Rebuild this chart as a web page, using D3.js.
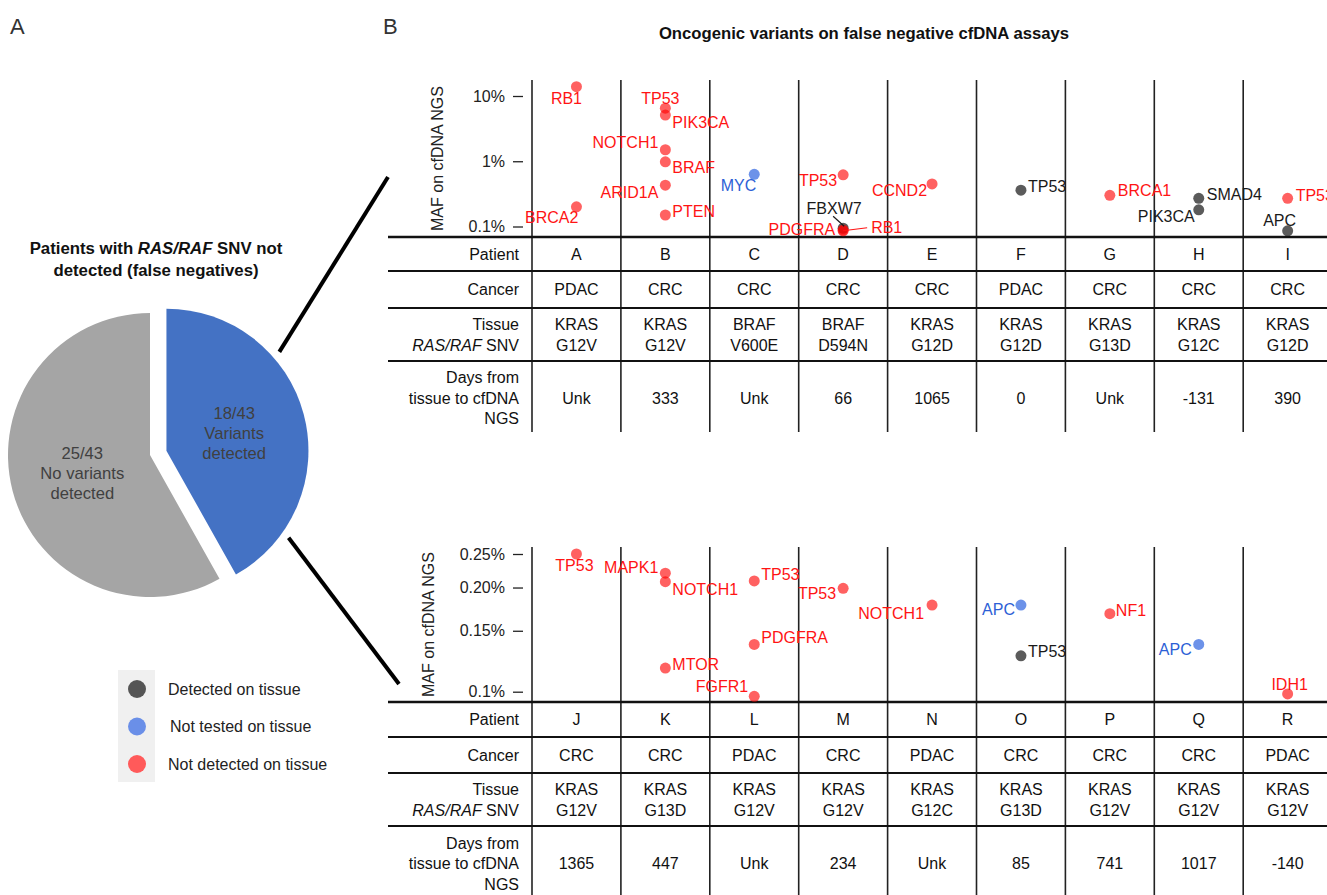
<!DOCTYPE html>
<html>
<head>
<meta charset="utf-8">
<script src="https://cdn.jsdelivr.net/npm/d3@7"></script>
<style>
  body { margin: 0; background: #fff; }
  svg { font-family: "Liberation Sans", Arial, Helvetica, sans-serif; }
</style>
</head>
<body>
<svg id="fig" width="1327" height="895"></svg>
<script>
// ---- pie data (panel A)
const pieLabels = ['18/43|Variants|detected', '25/43|No variants|detected'];
const pieValues = [18, 25];
const pieColors = ['#4472c4', '#a5a5a5'];

// ---- legend
const legendKeys = ['det', 'nt', 'nd'];
const legendText = ['Detected on tissue', 'Not tested on tissue', 'Not detected on tissue'];

// ---- table rows, top panel
const topPatients = ['A', 'B', 'C', 'D', 'E', 'F', 'G', 'H', 'I'];
const topCancer = ['PDAC', 'CRC', 'CRC', 'CRC', 'CRC', 'PDAC', 'CRC', 'CRC', 'CRC'];
const topGene = ['KRAS', 'KRAS', 'BRAF', 'BRAF', 'KRAS', 'KRAS', 'KRAS', 'KRAS', 'KRAS'];
const topSnv = ['G12V', 'G12V', 'V600E', 'D594N', 'G12D', 'G12D', 'G13D', 'G12C', 'G12D'];
const topDays = ['Unk', '333', 'Unk', '66', '1065', '0', 'Unk', '-131', '390'];
const topTicks = [0.1, 1, 10];

// MAF in %, status: det = detected on tissue, nt = not tested, nd = not detected
const topVariants = [
  {patient: 'A', gene: 'RB1', maf: 13.9, status: 'nd'},
  {patient: 'A', gene: 'BRCA2', maf: 0.2, status: 'nd'},
  {patient: 'B', gene: 'TP53', maf: 6.5, status: 'nd'},
  {patient: 'B', gene: 'PIK3CA', maf: 5.1, status: 'nd'},
  {patient: 'B', gene: 'NOTCH1', maf: 1.5, status: 'nd'},
  {patient: 'B', gene: 'BRAF', maf: 0.98, status: 'nd'},
  {patient: 'B', gene: 'ARID1A', maf: 0.43, status: 'nd'},
  {patient: 'B', gene: 'PTEN', maf: 0.15, status: 'nd'},
  {patient: 'C', gene: 'MYC', maf: 0.63, status: 'nt'},
  {patient: 'D', gene: 'TP53', maf: 0.62, status: 'nd'},
  {patient: 'D', gene: 'FBXW7', maf: 0.094, status: 'det'},
  {patient: 'D', gene: 'PDGFRA', maf: 0.088, status: 'nd'},
  {patient: 'D', gene: 'RB1', maf: 0.086, status: 'nd'},
  {patient: 'E', gene: 'CCND2', maf: 0.45, status: 'nd'},
  {patient: 'F', gene: 'TP53', maf: 0.36, status: 'det'},
  {patient: 'G', gene: 'BRCA1', maf: 0.3, status: 'nd'},
  {patient: 'H', gene: 'SMAD4', maf: 0.27, status: 'det'},
  {patient: 'H', gene: 'PIK3CA', maf: 0.18, status: 'det'},
  {patient: 'I', gene: 'TP53', maf: 0.27, status: 'nd'},
  {patient: 'I', gene: 'APC', maf: 0.086, status: 'det'}
];
// label placement for each variant above: [dx, dy, anchor, leader?]
const topLabelPos = [
  [-10, 12, 'middle'], [2, 11, 'end'],
  [-5, -10, 'middle'], [7, 7, 'start'], [-7, -7, 'end'], [7, 6, 'start'], [-7, 7, 'end'], [7, -4, 'start'],
  [2, 11, 'end'],
  [-6, 6, 'end'], [-9, -20, 'middle', [-10, -12, 1, -2]], [-8, -1, 'end'], [28, -3, 'start', [0, 0, 24, -3]],
  [-5, 7, 'end'],
  [7, -4, 'start'],
  [8, -5, 'start'],
  [8, -4, 'start'], [-4, 7, 'end'],
  [8, -3, 'start'], [-8, -10, 'middle']
];

// ---- table rows, bottom panel
const botPatients = ['J', 'K', 'L', 'M', 'N', 'O', 'P', 'Q', 'R'];
const botCancer = ['CRC', 'CRC', 'PDAC', 'CRC', 'PDAC', 'CRC', 'CRC', 'CRC', 'PDAC'];
const botGene = ['KRAS', 'KRAS', 'KRAS', 'KRAS', 'KRAS', 'KRAS', 'KRAS', 'KRAS', 'KRAS'];
const botSnv = ['G12V', 'G13D', 'G12V', 'G12V', 'G12C', 'G13D', 'G12V', 'G12V', 'G12V'];
const botDays = ['1365', '447', 'Unk', '234', 'Unk', '85', '741', '1017', '-140'];
const botTicks = [0.1, 0.15, 0.2, 0.25];

const botVariants = [
  {patient: 'J', gene: 'TP53', maf: 0.25, status: 'nd'},
  {patient: 'K', gene: 'MAPK1', maf: 0.22, status: 'nd'},
  {patient: 'K', gene: 'NOTCH1', maf: 0.208, status: 'nd'},
  {patient: 'K', gene: 'MTOR', maf: 0.117, status: 'nd'},
  {patient: 'L', gene: 'TP53', maf: 0.209, status: 'nd'},
  {patient: 'L', gene: 'PDGFRA', maf: 0.137, status: 'nd'},
  {patient: 'L', gene: 'FGFR1', maf: 0.097, status: 'nd'},
  {patient: 'M', gene: 'TP53', maf: 0.199, status: 'nd'},
  {patient: 'N', gene: 'NOTCH1', maf: 0.178, status: 'nd'},
  {patient: 'O', gene: 'APC', maf: 0.178, status: 'nt'},
  {patient: 'O', gene: 'TP53', maf: 0.127, status: 'det'},
  {patient: 'P', gene: 'NF1', maf: 0.168, status: 'nd'},
  {patient: 'Q', gene: 'APC', maf: 0.137, status: 'nt'},
  {patient: 'R', gene: 'IDH1', maf: 0.0985, status: 'nd'}
];
const botLabelPos = [
  [-2, 11, 'middle'],
  [-7, -6, 'end'], [7, 8, 'start'], [7, -4, 'start'],
  [7, -7, 'start'], [7, -7, 'start'], [-6, -10, 'end'],
  [-7, 5, 'end'],
  [-8, 8, 'end'],
  [-6, 4, 'end'], [7, -4, 'start'],
  [6, -3, 'start'],
  [-7, 5, 'end'],
  [2, -10, 'middle']
];

const dotFill = {det: '#1c1c1c', nt: '#3b6ee2', nd: '#ff0000'};
const dotOpacity = {det: 0.72, nt: 0.75, nd: 0.62};
const textFill = {det: '#1a1a1a', nt: '#2d5fd6', nd: '#ff1414'};
const legendFill = {det: '#555555', nt: '#6a8fe8', nd: '#ff5a5a'};

const svg = d3.select('#fig');

// ---------- panel letters and titles
svg.append('text').attr('x', 10).attr('y', 34).attr('font-size', 22).attr('fill', '#333').text('A');
svg.append('text').attr('x', 383).attr('y', 34).attr('font-size', 22).attr('fill', '#333').text('B');
svg.append('text').attr('x', 864).attr('y', 39).attr('text-anchor', 'middle')
  .attr('font-size', 16.7).attr('font-weight', 'bold').attr('fill', '#111')
  .text('Oncogenic variants on false negative cfDNA assays');

const pt = svg.append('text').attr('text-anchor', 'middle').attr('font-size', 16.8)
  .attr('font-weight', 'bold').attr('fill', '#111');
const l1 = pt.append('tspan').attr('x', 156).attr('y', 254);
l1.append('tspan').text('Patients with ');
l1.append('tspan').attr('font-style', 'italic').text('RAS/RAF');
l1.append('tspan').text(' SNV not');
pt.append('tspan').attr('x', 156).attr('y', 276).text('detected (false negatives)');

// ---------- pie
const cx = 150, cy = 455, R = 142, explode = 17;
const pie = d3.pie().sort(null)(pieValues);
const arc = d3.arc().innerRadius(0).outerRadius(R);
const labelArc = d3.arc().innerRadius(70).outerRadius(70);
const pieG = svg.append('g').attr('transform', `translate(${cx},${cy})`);
const slices = pieG.selectAll('g.slice').data(pie).join('g')
  .attr('transform', (d, i) => {
    if (i !== 0) return null;
    const a = (d.startAngle + d.endAngle) / 2;
    return `translate(${explode * Math.sin(a)},${-explode * Math.cos(a)})`;
  });
slices.append('path').attr('d', arc).attr('fill', (d, i) => pieColors[i]);
slices.append('text')
  .attr('transform', d => `translate(${labelArc.centroid(d)})`)
  .attr('text-anchor', 'middle').attr('font-size', 16.6).attr('fill', '#404040')
  .selectAll('tspan').data((d, i) => pieLabels[i].split('|')).join('tspan')
  .attr('x', 0).attr('y', (t, j) => (j - 1) * 20).attr('dy', '0.35em').text(t => t);

// connector lines from the exploded slice to panel B
const blue = pie[0];
const bcx = cx + explode * Math.sin((blue.startAngle + blue.endAngle) / 2);
const bcy = cy - explode * Math.cos((blue.startAngle + blue.endAngle) / 2);
const conn = [[0.852, [388, 177]], [2.19, [399, 684]]];
conn.forEach(([a, end]) => {
  svg.append('line')
    .attr('x1', bcx + 150 * Math.sin(a)).attr('y1', bcy - 150 * Math.cos(a))
    .attr('x2', end[0]).attr('y2', end[1])
    .attr('stroke', '#000').attr('stroke-width', 4);
});

// ---------- legend
const lg = svg.append('g');
lg.append('rect').attr('x', 118).attr('y', 670).attr('width', 37).attr('height', 112).attr('fill', '#f0f0f0');
legendKeys.forEach((k, i) => {
  const yy = 689 + i * 37.5;
  lg.append('circle').attr('cx', 137).attr('cy', yy).attr('r', 9).attr('fill', legendFill[k]);
  lg.append('text').attr('x', 168 + (i === 1 ? 2 : 0)).attr('y', yy).attr('dy', '0.35em')
    .attr('font-size', 16).attr('fill', '#222').text(legendText[i]);
});

// ---------- panel B drawing
function drawPanel(p) {
  const g = svg.append('g');
  const x = d3.scaleBand().domain(p.patients).range([532, 532 + 9 * 88.9]);
  const y = d3.scaleLog().domain(p.yDomain).range(p.yRange);
  const xc = d => x(d) + x.bandwidth() / 2;

  // column lines
  g.selectAll('line.col').data(p.patients).join('line')
    .attr('x1', d => x(d)).attr('x2', d => x(d))
    .attr('y1', p.plotTop).attr('y2', p.tableBottom)
    .attr('stroke', '#222').attr('stroke-width', 1.6);

  // row lines
  p.rows.forEach((ry, i) => {
    g.append('line').attr('x1', 388).attr('x2', 1327).attr('y1', ry).attr('y2', ry)
      .attr('stroke', '#111').attr('stroke-width', i === 0 ? 2.6 : 2);
  });

  // y axis
  const ax = g.append('g').attr('transform', 'translate(523,0)')
    .call(d3.axisLeft(y).tickValues(p.ticks).tickFormat(p.fmt).tickSize(10).tickPadding(8));
  ax.select('.domain').remove();
  ax.selectAll('.tick line').attr('stroke', '#222').attr('stroke-width', 1.3);
  ax.selectAll('.tick text').attr('font-size', 16).attr('fill', '#222')
    .attr('font-family', '"Liberation Sans", Arial, sans-serif');
  g.append('text').attr('transform', `translate(${p.yLabelX},${(p.plotTop + p.rows[0]) / 2}) rotate(-90)`)
    .attr('text-anchor', 'middle').attr('dy', '0.35em').attr('font-size', 16).attr('fill', '#222')
    .text('MAF on cfDNA NGS');

  // table
  const r = p.rows;
  const hdr = g.append('g').attr('font-size', 16).attr('fill', '#111');
  const rowCenters = [(r[0] + r[1]) / 2, (r[1] + r[2]) / 2, (r[2] + r[3]) / 2, p.daysY];
  hdr.append('text').attr('x', 519).attr('y', rowCenters[0]).attr('dy', '0.35em').attr('text-anchor', 'end').text('Patient');
  hdr.append('text').attr('x', 519).attr('y', rowCenters[1]).attr('dy', '0.35em').attr('text-anchor', 'end').text('Cancer');
  hdr.append('text').attr('x', 519).attr('y', rowCenters[2] - 10.5).attr('dy', '0.35em').attr('text-anchor', 'end').text('Tissue');
  const rr = hdr.append('text').attr('x', 519).attr('y', rowCenters[2] + 10.5).attr('dy', '0.35em').attr('text-anchor', 'end');
  rr.append('tspan').attr('font-style', 'italic').text('RAS/RAF');
  rr.append('tspan').text(' SNV');
  ['Days from', 'tissue to cfDNA', 'NGS'].forEach((t, i) => {
    hdr.append('text').attr('x', 519).attr('y', p.daysY + (i - 1) * 20.5).attr('dy', '0.35em')
      .attr('text-anchor', 'end').text(t);
  });
  const cells = g.append('g').attr('font-size', 16).attr('fill', '#111').attr('text-anchor', 'middle');
  p.patients.forEach((pid, i) => {
    const cxp = xc(pid);
    cells.append('text').attr('x', cxp).attr('y', rowCenters[0]).attr('dy', '0.35em').text(pid);
    cells.append('text').attr('x', cxp).attr('y', rowCenters[1]).attr('dy', '0.35em').text(p.cancer[i]);
    cells.append('text').attr('x', cxp).attr('y', rowCenters[2] - 10.5).attr('dy', '0.35em').text(p.gene[i]);
    cells.append('text').attr('x', cxp).attr('y', rowCenters[2] + 10.5).attr('dy', '0.35em').text(p.snv[i]);
    cells.append('text').attr('x', cxp).attr('y', rowCenters[3]).attr('dy', '0.35em').text(p.days[i]);
  });

  // dots
  g.append('g').selectAll('circle').data(p.variants).join('circle')
    .attr('cx', d => xc(d.patient)).attr('cy', d => y(d.maf)).attr('r', 5.5)
    .attr('fill', d => dotFill[d.status]).attr('fill-opacity', d => dotOpacity[d.status]);

  // labels + leaders
  const lab = g.append('g').attr('font-size', 16);
  p.variants.forEach((d, i) => {
    const [dx, dy, anchor, leader] = p.labelPos[i];
    const px = xc(d.patient), py = y(d.maf);
    if (leader) {
      lab.append('line').attr('x1', px + leader[0]).attr('y1', py + leader[1])
        .attr('x2', px + leader[2]).attr('y2', py + leader[3])
        .attr('stroke', textFill[d.status]).attr('stroke-width', 1.2);
    }
    lab.append('text').attr('x', px + dx).attr('y', py + dy).attr('dy', '0.35em')
      .attr('text-anchor', anchor).attr('fill', textFill[d.status]).text(d.gene);
  });
}

drawPanel({
  patients: topPatients, cancer: topCancer, gene: topGene, snv: topSnv, days: topDays,
  variants: topVariants, labelPos: topLabelPos, ticks: topTicks,
  fmt: v => v + '%',
  yDomain: [0.1, 10], yRange: [226.5, 96],
  plotTop: 80, rows: [237, 271, 308, 361], tableBottom: 432, daysY: 398, yLabelX: 437
});

drawPanel({
  patients: botPatients, cancer: botCancer, gene: botGene, snv: botSnv, days: botDays,
  variants: botVariants, labelPos: botLabelPos, ticks: botTicks,
  fmt: v => (v === 0.1 ? '0.1' : v.toFixed(2)) + '%',
  yDomain: [0.1, 0.25], yRange: [691.7, 554],
  plotTop: 547, rows: [702, 737, 773, 826], tableBottom: 895, daysY: 863.5, yLabelX: 428
});
</script>
</body>
</html>
